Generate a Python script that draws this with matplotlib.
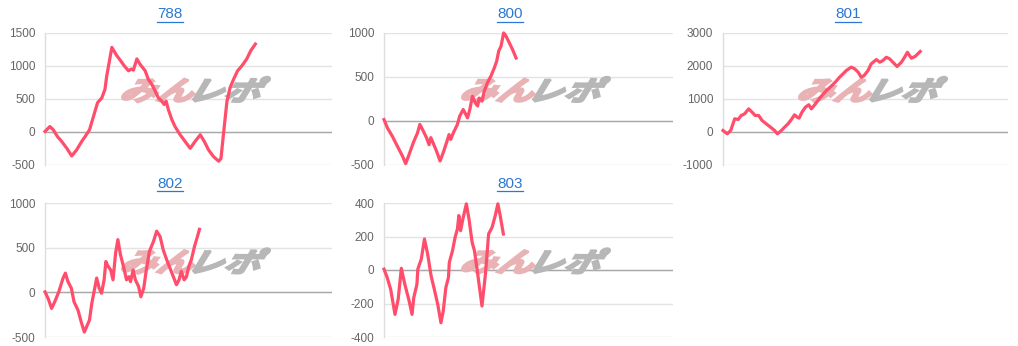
import matplotlib
matplotlib.use("Agg")
import matplotlib.pyplot as plt
import matplotlib.transforms as mtransforms
from matplotlib.textpath import TextPath
from matplotlib.patches import PathPatch
from matplotlib.font_manager import FontProperties
from matplotlib.lines import Line2D

plt.rcParams['font.family'] = ['Liberation Sans', 'DejaVu Sans']

# ---------------- data ----------------
titles = ["788", "800", "801", "802", "803"]

x_788 = [0, 1.7, 2.9, 4.3, 5.8, 7.6, 9.3, 11.0, 12.8, 14.0, 15.5, 16.9, 18.3, 19.8, 20.9, 21.5,
         23.3, 25.0, 26.4, 27.6, 29.1, 30.0, 30.8, 32.0, 33.1, 34.9, 36.0, 37.2, 38.4, 39.5, 40.7,
         41.5, 42.2, 43.0, 44.2, 45.3, 47.1, 48.8, 50.6, 52.3, 54.1, 55.5, 57.0, 58.7, 60.5, 61.3,
         62.4, 63.4, 64.5, 65.7, 67.1, 68.6, 70.3, 71.7, 73.3]
y_788 = [0, 75, 25, -75, -150, -255, -370, -280, -150, -75, 25, 230, 435, 510, 640, 840,
         1275, 1150, 1070, 995, 920, 945, 930, 1100, 1020, 920, 790, 715, 610, 510, 460,
         410, 460, 330, 180, 75, -50, -150, -255, -150, -50, -150, -280, -380, -450, -410,
         50, 460, 665, 790, 920, 995, 1100, 1225, 1325]

x_800 = [0, 1.2, 2.9, 4.6, 6.4, 7.5, 8.7, 10.1, 11.6, 12.4, 13.3, 14.7, 15.6, 16.2, 17.0, 18.2,
         19.4, 20.5, 21.6, 22.5, 23.1, 24.0, 25.4, 26.2, 27.4, 28.3, 28.9, 29.7, 30.6, 31.6, 32.4,
         32.9, 33.9, 34.7, 35.8, 37.0, 38.2, 39.0, 39.7, 40.5, 41.4, 42.2, 43.4, 44.5, 45.7]
y_800 = [10, -85, -180, -290, -405, -490, -385, -255, -140, -45, -100, -195, -275, -195, -255, -350,
         -460, -365, -255, -160, -215, -140, -45, 50, 125, 70, 30, 125, 275, 200, 165,
         255, 220, 335, 430, 505, 600, 675, 790, 845, 995, 960, 880, 805, 710]

x_801 = [0, 1.5, 2.7, 4.1, 5.3, 6.4, 7.6, 9.0, 10.2, 11.3, 12.5, 13.7, 15.2, 16.7, 18.1, 19.1,
         20.5, 21.6, 22.8, 24.0, 25.1, 26.0, 26.7, 27.7, 28.9, 30.1, 31.0, 32.2, 33.3, 34.7, 36.3,
         38.0, 39.4, 40.9, 42.1, 43.3, 45.0, 46.2, 47.4, 48.5, 49.5, 50.9, 52.0, 53.8, 55.0, 56.1,
         57.3, 58.5, 59.6, 61.1, 62.6, 63.5, 64.7, 66.1, 67.5, 69.2]
y_801 = [30, -70, 30, 385, 365, 485, 535, 685, 585, 485, 485, 335, 230, 130, 30, -70,
         30, 130, 230, 365, 505, 435, 405, 585, 735, 810, 685, 810, 940, 1090, 1240,
         1375, 1495, 1645, 1745, 1850, 1950, 1900, 1800, 1645, 1695, 1850, 2050, 2180, 2100, 2150,
         2250, 2200, 2100, 1970, 2100, 2220, 2400, 2220, 2280, 2425]

x_802 = [0, 1.1, 2.3, 3.4, 4.8, 6.3, 7.1, 8.0, 9.2, 10.1, 11.5, 12.6, 13.7, 14.7, 15.5, 16.3,
         17.2, 18.0, 18.9, 19.7, 20.6, 21.2, 22.0, 22.9, 23.7, 24.6, 25.4, 26.3, 27.5, 28.4, 29.2,
         29.8, 30.7, 31.5, 32.6, 33.4, 34.4, 35.3, 36.4, 37.8, 38.9, 40.1, 41.2, 42.4, 43.8, 44.9,
         45.8, 46.7, 47.5, 48.5, 49.3, 50.1, 51.0, 52.1, 53.3, 53.8]
y_802 = [5, -70, -180, -105, 5, 160, 215, 120, 45, -105, -200, -330, -445, -370, -310, -125,
         25, 160, 45, -10, 140, 345, 290, 250, 140, 440, 590, 420, 270, 140, 175,
         120, 250, 140, 65, -50, 45, 250, 460, 570, 685, 625, 475, 365, 250, 160,
         85, 140, 235, 140, 175, 290, 365, 515, 645, 705]

x_803 = [0, 1.1, 2.3, 3.8, 4.9, 6.0, 7.2, 8.7, 9.7, 10.3, 11.4, 11.7, 12.9, 14.0, 15.1, 16.3,
         17.4, 18.6, 19.7, 20.5, 21.4, 22.3, 22.6, 23.7, 24.6, 25.4, 25.9, 26.5, 27.3, 28.5, 29.4,
         30.5, 31.3, 32.2, 33.9, 35.1, 36.2, 37.4, 38.5, 39.4, 40.2, 41.3]
y_803 = [5, -45, -115, -265, -175, 10, -85, -185, -265, -165, -85, 5, 65, 185, 95, -35,
         -115, -205, -315, -245, -105, -45, 45, 115, 195, 245, 325, 235, 305, 395, 305,
         165, 115, 5, -215, -25, 215, 255, 325, 395, 325, 215]

yticks_788 = [-500, 0, 500, 1000, 1500]
yticks_800 = [-500, 0, 500, 1000]
yticks_801 = [-1000, 0, 1000, 2000, 3000]
yticks_802 = [-500, 0, 500, 1000]
yticks_803 = [-400, -200, 0, 200, 400]

series = [
    (x_788, y_788, yticks_788),
    (x_800, y_800, yticks_800),
    (x_801, y_801, yticks_801),
    (x_802, y_802, yticks_802),
    (x_803, y_803, yticks_803),
]

# ---------------- layout ----------------
W, H = 1018, 346
DPI = 100
fig = plt.figure(figsize=(W / DPI, H / DPI), dpi=DPI)
fig.patch.set_facecolor("white")

col_lr = [(45, 332), (384, 673), (723, 1008)]
row_tb = [(32.5, 164.5), (203, 337)]
cell_cx = [170, 510, 848]
title_y = [14, 184]

LINE_COLOR = "#ff4d6b"
GRID_COLOR = "#e3e3e3"
TICK_COLOR = "#666666"
TITLE_COLOR = "#2a78d4"

fp_wm = FontProperties(family="Noto Sans CJK JP", weight="bold")
tp_a = TextPath((0, 0), "みん", size=1, prop=fp_wm)
tp_b = TextPath((0, 0), "レポ", size=1, prop=fp_wm)
ext_a = tp_a.get_extents()
ext_b = tp_b.get_extents()

for i, (xs, ys, ticks) in enumerate(series):
    r, c = divmod(i, 3)
    l, rr = col_lr[c]
    t, b = row_tb[r]
    ax = fig.add_axes([l / W, 1 - b / H, (rr - l) / W, (b - t) / H])
    ax.set_xlim(0, 100)
    ax.set_ylim(ticks[0], ticks[-1])
    ax.set_yticks(ticks)
    ax.set_yticklabels([str(v) for v in ticks])
    ax.set_xticks([])
    ax.tick_params(axis="y", length=0, pad=7, labelsize=8.5, labelcolor=TICK_COLOR)
    for s in ["top", "right", "bottom"]:
        ax.spines[s].set_visible(False)
    ax.spines["left"].set_color("#dddddd")
    ax.spines["left"].set_linewidth(1)
    ax.yaxis.grid(True, color=GRID_COLOR, lw=1)
    ax.set_axisbelow(True)
    ax.axhline(0, color="#a8a8a8", lw=1, zorder=1)
    ax.plot(xs, ys, color=LINE_COLOR, lw=2.3, zorder=5, solid_joinstyle="round", clip_on=False)

    # watermark
    cx = (l + rr) / 2 + 4
    cy = (t + b) / 2 - 9  # from top, pixels
    sx, sy = 37, 27
    gap = 0.05
    total_w = (ext_a.width + ext_b.width + gap) * sx
    x0 = cx - total_w / 2 - 4
    ybase = H - cy - 0.40 * sy
    tr_a = mtransforms.Affine2D().skew_deg(24, 0).scale(sx, sy).translate(x0 - ext_a.x0 * sx, ybase)
    tr_b = mtransforms.Affine2D().skew_deg(24, 0).scale(sx, sy).translate(
        x0 + (ext_a.width + gap) * sx - ext_b.x0 * sx, ybase)
    pa = PathPatch(tp_a, transform=tr_a, facecolor="#e9b2b4", edgecolor="#e9b2b4",
                   lw=1.6, zorder=2, joinstyle="miter")
    pb = PathPatch(tp_b, transform=tr_b, facecolor="#b7b7b7", edgecolor="#b7b7b7",
                   lw=1.6, zorder=2, joinstyle="miter")
    ax.add_artist(pa)
    ax.add_artist(pb)
    pa.set_clip_on(False)
    pb.set_clip_on(False)

    # title
    fig.text(cell_cx[c] / W, 1 - title_y[r] / H, titles[i], ha="center", va="center",
             fontsize=11, color=TITLE_COLOR)

fig.canvas.draw()
renderer = fig.canvas.get_renderer()
for txt in list(fig.texts):
    bb = txt.get_window_extent(renderer)
    yline = bb.y0 - 0.5
    fig.add_artist(Line2D([bb.x0 / W, bb.x1 / W], [yline / H, yline / H],
                          color=TITLE_COLOR, lw=0.9, transform=fig.transFigure))

fig.savefig("out.png", dpi=DPI, facecolor="white")
